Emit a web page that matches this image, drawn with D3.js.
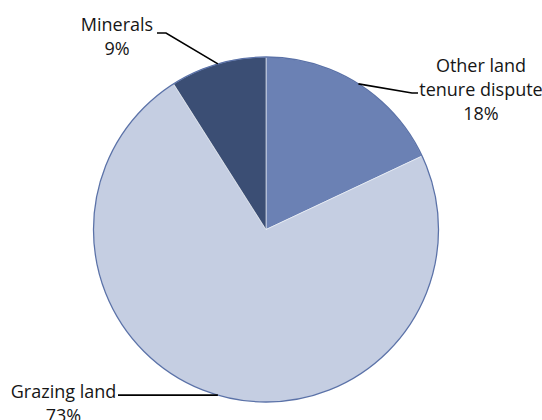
<!DOCTYPE html>
<html>
<head>
<meta charset="utf-8">
<script src="https://cdn.jsdelivr.net/npm/d3@7"></script>
<style>
  html, body { margin: 0; padding: 0; background: #fff; }
  svg { display: block; }
  text { font-family: "Open Sans", Lato, sans-serif; font-size: 18px; fill: #161616; }
</style>
</head>
<body>
<svg id="chart" width="542" height="420"></svg>
<script>
// Land dispute causes, share of cases (%)
const categories = ["Other land tenure dispute", "Grazing land", "Minerals"];
const values = [18, 73, 9];
const labelLines = [["Other land", "tenure dispute", "18%"], ["Grazing land", "73%"], ["Minerals", "9%"]];
const colors = ["#6B81B4", "#C5CEE2", "#3B4E74"];

const width = 542, height = 420;
const cx = 266, cy = 229.5, radius = 172.5;

const svg = d3.select("#chart");
const g = svg.append("g").attr("transform", `translate(${cx},${cy})`);

const pie = d3.pie().value(d => d).sort(null);
const arcs = pie(values);
const arc = d3.arc().innerRadius(0).outerRadius(radius);

g.selectAll("path.slice")
  .data(arcs)
  .join("path")
  .attr("class", "slice")
  .attr("d", arc)
  .attr("fill", (d, i) => colors[i])
  .attr("stroke", "#f4f6fa")
  .attr("stroke-width", 0.6);

// outer rim
g.append("circle")
  .attr("r", radius)
  .attr("fill", "none")
  .attr("stroke", "#5B72A8")
  .attr("stroke-width", 1.3);

// point on the rim at the middle of a slice
function rimPoint(d) {
  const a = (d.startAngle + d.endAngle) / 2;
  return [Math.sin(a) * radius, -Math.cos(a) * radius];
}

// leader bends and label placement (relative to chart centre)
const leaders = [
  { bend: [146, -136.5], end: [152, -136.5], tx: 215, ty: -158, anchor: "middle" },
  { bend: null, end: [-148, null], tx: -202.5, ty: 168.5, anchor: "middle" },
  { bend: [-100, -196.5], end: [-109, -196.5], tx: -149, ty: -198.5, anchor: "middle" }
];
const lineHeight = 24;

arcs.forEach((d, i) => {
  const p = rimPoint(d);
  const L = leaders[i];
  // a null bend means a straight horizontal leader from the rim
  const pts = L.bend ? [p, L.bend, L.end] : [p, [L.end[0], p[1]]];
  g.append("polyline")
    .attr("points", pts.map(q => q.join(",")).join(" "))
    .attr("fill", "none")
    .attr("stroke", "#000")
    .attr("stroke-width", 1.6);
  const t = g.append("text")
    .attr("text-anchor", L.anchor);
  labelLines[i].forEach((line, k) => {
    t.append("tspan")
      .attr("x", L.tx)
      .attr("y", L.ty + k * lineHeight)
      .text(line);
  });
});
</script>
</body>
</html>
